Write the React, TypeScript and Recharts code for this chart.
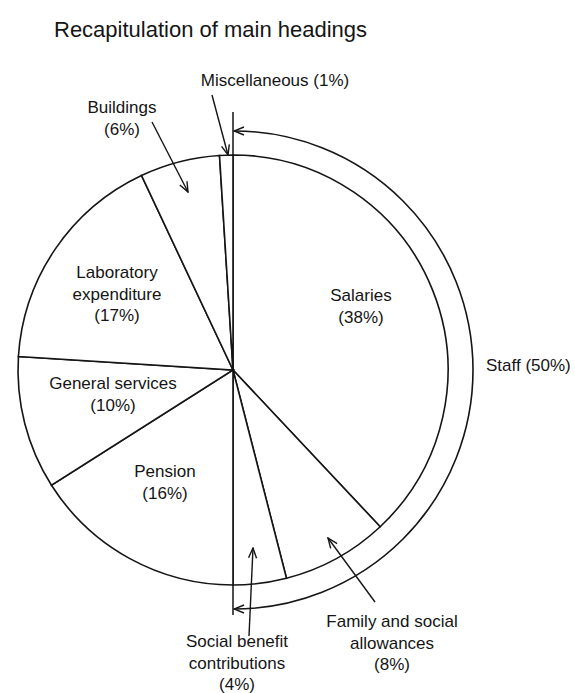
import { PieChart, Pie, Cell } from 'recharts';

const headings = [
  'Salaries',
  'Family and social allowances',
  'Social benefit contributions',
  'Pension',
  'General services',
  'Laboratory expenditure',
  'Buildings',
  'Miscellaneous',
];
const shares = [38, 8, 4, 16, 10, 17, 6, 1];
// how each label is broken into lines (the percentage line is added below)
const labelWords = [
  ['Salaries'],
  ['Family and social', 'allowances'],
  ['Social benefit', 'contributions'],
  ['Pension'],
  ['General services'],
  ['Laboratory', 'expenditure'],
  ['Buildings'],
  ['Miscellaneous'],
];
const staffShare = 50;

const data = headings.map((name, i) => ({ name, value: shares[i] }));

const FONT = '"Liberation Sans", Arial, sans-serif';
const INK = '#151515';

// label centre relative to the pie centre, and whether % goes on its own line
const labelPos: Record<string, { dx: number; dy: number; inline?: boolean }> = {
  Salaries: { dx: 128, dy: -75 },
  'Family and social allowances': { dx: 159, dy: 251 },
  'Social benefit contributions': { dx: 4, dy: 271 },
  Pension: { dx: -68, dy: 101 },
  'General services': { dx: -120, dy: 13 },
  'Laboratory expenditure': { dx: -116, dy: -98 },
  Buildings: { dx: -111, dy: -263 },
  Miscellaneous: { dx: 42, dy: -290, inline: true },
};

// pointer arrows for labels that sit outside their slice
const pointers: Record<string, [number, number, number, number]> = {
  Miscellaneous: [-21, -275, -5, -215],
  Buildings: [-81, -248, -45, -178],
  'Family and social allowances': [142, 232, 95, 168],
  'Social benefit contributions': [16, 266, 20, 178],
};

const LINE_H = 21.5;

function renderLabel(props: any) {
  const { cx, cy, outerRadius, index } = props;
  const name = headings[index];
  const pos = labelPos[name];
  const pct = `(${shares[index]}%)`;
  const lines = pos.inline
    ? [`${labelWords[index].join(' ')} ${pct}`]
    : [...labelWords[index], pct];
  const ptr = pointers[name];
  const ra = outerRadius + 24;

  return (
    <g>
      {index === 0 && (
        <g>
          <defs>
            <marker
              id="arrowHead"
              viewBox="0 0 12 10"
              refX="11"
              refY="5"
              markerWidth="12"
              markerHeight="10"
              markerUnits="userSpaceOnUse"
              orient="auto-start-reverse"
            >
              <path d="M1,1 L11,5 L1,9" fill="none" stroke={INK} strokeWidth={1.4} />
            </marker>
          </defs>
          <text x={54} y={37} fontSize={22} fontFamily={FONT} fill={INK}>
            Recapitulation of main headings
          </text>
          {/* staff bracket */}
          <line x1={cx} y1={cy - outerRadius} x2={cx} y2={cy - outerRadius - 43} stroke={INK} strokeWidth={1.5} />
          <line x1={cx} y1={cy + outerRadius} x2={cx} y2={cy + outerRadius + 30} stroke={INK} strokeWidth={1.5} />
          <path
            d={`M${cx + 1},${cy - ra} A${ra},${ra} 0 0 1 ${cx + 1},${cy + ra}`}
            fill="none"
            stroke={INK}
            strokeWidth={1.6}
            markerStart="url(#arrowHead)"
            markerEnd="url(#arrowHead)"
          />
          <text x={cx + ra + 14} y={cy - 5} fontSize={17} fontFamily={FONT} fill={INK} dominantBaseline="central">
            {`Staff (${staffShare}%)`}
          </text>
        </g>
      )}
      {ptr && (
        <line
          x1={cx + ptr[0]}
          y1={cy + ptr[1]}
          x2={cx + ptr[2]}
          y2={cy + ptr[3]}
          stroke={INK}
          strokeWidth={1.4}
          markerEnd="url(#arrowHead)"
        />
      )}
      <text
        x={cx + pos.dx}
        y={cy + pos.dy}
        fontSize={17}
        fontFamily={FONT}
        fill={INK}
        textAnchor="middle"
        dominantBaseline="central"
      >
        {lines.map((l, i) => (
          <tspan key={i} x={cx + pos.dx} dy={i === 0 ? 0 : LINE_H}>
            {l}
          </tspan>
        ))}
      </text>
    </g>
  );
}

export default function App() {
  return (
    <div style={{ position: 'absolute', left: 0, top: 0, background: '#fff' }}>
      <PieChart width={575} height={693}>
        <Pie
          data={data}
          dataKey="value"
          nameKey="name"
          cx={228}
          cy={365}
          outerRadius={215}
          startAngle={90}
          endAngle={-270}
          stroke={INK}
          strokeWidth={1.6}
          label={renderLabel}
          labelLine={false}
          isAnimationActive={false}
        >
          {data.map((d) => (
            <Cell key={d.name} fill="#fff" />
          ))}
        </Pie>
      </PieChart>
    </div>
  );
}
